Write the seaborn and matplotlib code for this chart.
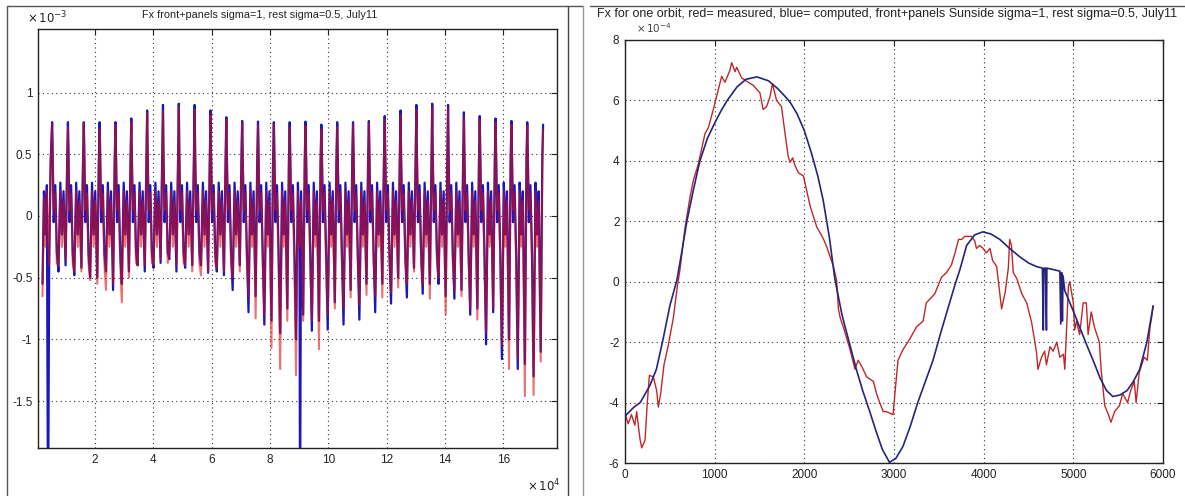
import numpy as np
import pandas as pd
import matplotlib
matplotlib.use("Agg")
import matplotlib.pyplot as plt
from matplotlib.lines import Line2D
import seaborn as sns

# ---------------- left panel: Fx over many orbits (units of 1e-3) ----------------
first_peak_x = 5300
orbit_period = 5430
peak_b = [0.76, 0.76, 0.76, 0.76, 0.76, 0.79, 0.855, 0.90, 0.91, 0.90, 0.855, 0.80, 0.77, 0.765, 0.76, 0.76,
          0.765, 0.74, 0.76, 0.76, 0.77, 0.81, 0.855, 0.90, 0.91, 0.90, 0.84, 0.81, 0.79, 0.77, 0.76, 0.74]
peak_r = [0.74, 0.72, 0.75, 0.70, 0.74, 0.76, 0.83, 0.85, 0.88, 0.86, 0.82, 0.78, 0.75, 0.73, 0.74, 0.72,
          0.73, 0.70, 0.72, 0.74, 0.75, 0.78, 0.82, 0.86, 0.88, 0.87, 0.80, 0.78, 0.76, 0.74, 0.73, 0.70]
t1_b = [-0.45, -0.48, -0.50, -0.45, -0.55, -0.40, -0.42, -0.35, -0.42, -0.40, -0.45, -0.60, -0.78,
        -0.88, -0.95, -1.00, -0.93, -0.92, -0.88, -0.84, -0.78, -0.71, -0.66, -0.63, -0.55, -0.67,
        -0.80, -1.04, -1.16, -1.24, -1.30]
t1_r = [-0.40, -0.45, -0.52, -0.60, -0.70, -0.40, -0.40, -0.30, -0.40, -0.48, -0.42, -0.50, -0.65,
        -0.80, -1.24, -1.29, -0.85, -0.80, -0.75, -0.72, -0.65, -0.62, -0.55, -0.55, -0.50, -0.60,
        -0.75, -0.95, -1.05, -1.15, -1.45]
t2_b = [-0.40, -0.42, -0.50, -0.60, -0.45, -0.45, -0.38, -0.45, -0.40, -0.46, -0.48, -0.40, -0.65,
        -0.85, -0.75, -0.80, -0.85, -0.70, -0.60, -0.55, -0.55, -0.50, -0.42, -0.55, -0.65, -0.60,
        -0.75, -0.78, -1.00, -1.20, -1.10]
t2_r = [-0.35, -0.45, -0.55, -0.55, -0.50, -0.40, -0.35, -0.40, -0.45, -0.45, -0.45, -0.45, -0.83,
        -1.07, -0.85, -0.85, -1.08, -0.75, -0.66, -0.64, -0.66, -0.58, -0.45, -0.67, -0.80, -0.65,
        -0.84, -0.75, -1.24, -1.46, -1.18]
# within-orbit shape read from one orbit (P = peak, T1/T2 = orbit troughs)
orbit_phase = [0.00, 0.03, 0.10, 0.20, 0.30, 0.40, 0.52, 0.62, 0.72, 0.85, 0.95]
shape_b = ["P", 0.55, -0.05, 0.25, -0.30, "T1", 0.27, -0.15, 0.20, "T2", 0.45]
shape_r = ["P", 0.50, 0.05, 0.18, -0.38, "T1", 0.20, -0.25, 0.12, "T2", 0.40]
start_x = [2000, 2500, 3000, 3500, 4300, 4800]
start_b = [-0.55, 0.20, -0.15, 0.25, -0.35, 0.45]
start_r = [-0.65, 0.15, -0.25, 0.20, -0.40, 0.40]
spike_x = [3900, 90300]
spike_b = [-2.6, -2.6]

# ---------------- right panel: one orbit (units of 1e-4) ----------------
meas_x = [0, 10, 35, 72, 110, 130, 167, 186, 223, 250, 272, 316, 353, 372, 398, 435, 483, 539, 584, 613,
          670, 725, 762, 818, 892, 930, 985, 1040, 1078, 1115, 1170, 1190, 1227, 1245, 1300, 1375, 1430,
          1505, 1540, 1580, 1615, 1645, 1690, 1745, 1785, 1820, 1840, 1870, 1895, 1935, 1990, 2065, 2140,
          2180, 2215, 2250, 2325, 2360, 2380, 2400, 2435, 2510, 2565, 2600, 2640, 2695, 2770, 2805, 2840,
          2880, 2915, 2990, 3010, 3045, 3100, 3175, 3250, 3325, 3360, 3455, 3530, 3585, 3640, 3680, 3720,
          3755, 3790, 3865, 3900, 3920, 3955, 3995, 4030, 4070, 4100, 4145, 4200, 4240, 4275, 4290, 4310,
          4330, 4370, 4425, 4480, 4535, 4590, 4605, 4645, 4680, 4700, 4740, 4775, 4815, 4850, 4890, 4905,
          4925, 4945, 4960, 5000, 5015, 5035, 5070, 5110, 5145, 5165, 5200, 5235, 5290, 5310, 5350, 5385,
          5420, 5460, 5515, 5550, 5605, 5640, 5680, 5700, 5735, 5790, 5825, 5855, 5875, 5890]
meas_y = [-4.35, -4.45, -4.7, -4.4, -4.75, -4.3, -5.2, -5.5, -5.25, -3.95, -3.1, -3.15, -3.6, -4.15, -3.7,
          -2.75, -2.1, -1.2, -0.15, 0.4, 1.8, 2.8, 3.35, 3.9, 4.9, 5.1, 5.7, 6.35, 6.8, 6.6, 7.0, 7.25, 6.95,
          7.1, 6.75, 6.6, 6.5, 6.25, 5.7, 5.8, 6.1, 6.55, 6.0, 5.8, 4.9, 4.15, 3.95, 4.1, 3.85, 3.6, 3.5,
          2.5, 1.8, 1.6, 1.4, 1.15, 0.5, 0.05, -0.9, -1.2, -1.5, -2.25, -2.9, -2.6, -2.8, -3.15, -3.3, -3.7,
          -4.0, -4.3, -4.3, -4.4, -3.7, -2.6, -2.25, -1.9, -1.5, -1.3, -0.7, -0.4, 0.15, 0.3, 0.55, 0.95,
          1.4, 1.4, 1.5, 1.5, 1.35, 1.1, 1.2, 1.1, 0.95, 1.1, 0.7, 0.5, -0.9, -0.35, 0.45, 1.4, 1.2, 0.3,
          0.1, -0.4, -0.7, -1.35, -2.35, -2.9, -2.5, -2.3, -2.75, -2.15, -2.3, -2.0, -2.5, -2.4, -2.9, -1.55,
          -0.15, 0.0, -0.7, -1.6, -1.3, -1.75, -0.7, -0.7, -1.75, -1.0, -1.5, -2.0, -2.9, -4.1, -4.35, -4.65,
          -4.3, -4.1, -3.7, -4.0, -3.6, -3.3, -4.0, -3.0, -2.5, -2.6, -1.5, -1.15, -0.8]
comp_x = [0, 100, 170, 275, 350, 425, 500, 580, 640, 690, 760, 835, 920, 1000, 1070, 1140, 1250, 1350,
          1470, 1600, 1700, 1780, 1840, 1920, 2000, 2080, 2150, 2210, 2280, 2340, 2420, 2500, 2580,
          2650, 2730, 2800, 2870, 2950, 3020, 3100, 3180, 3265, 3350, 3435, 3530, 3620, 3680, 3735,
          3810, 3900, 3990, 4080, 4180, 4290, 4400, 4500, 4590, 4655, 4665, 4672, 4690, 4700, 4705,
          4850, 4860, 4870, 4878, 4885, 4905, 4990, 5070, 5150, 5220, 5300, 5370, 5440, 5520, 5600,
          5670, 5740, 5820, 5890]
comp_y = [-4.45, -4.15, -4.0, -3.45, -2.9, -1.9, -0.8, 0.07, 1.1, 2.0, 3.0, 4.0, 4.75, 5.25, 5.65, 6.0,
          6.45, 6.7, 6.78, 6.65, 6.4, 6.15, 5.95, 5.55, 5.0, 4.25, 3.5, 2.7, 1.45, 0.1, -1.1, -2.0, -2.9,
          -3.6, -4.3, -4.95, -5.55, -5.98, -5.85, -5.45, -4.8, -4.0, -3.3, -2.6, -1.6, -0.7, -0.1, 0.4,
          1.2, 1.55, 1.65, 1.58, 1.4, 1.1, 0.83, 0.62, 0.5, 0.45, -1.6, 0.45, 0.45, -1.6, 0.45,
          0.35, -1.4, 0.3, -1.3, 0.2, -0.3, -0.9, -1.5, -2.1, -2.6, -3.2, -3.6, -3.8, -3.75, -3.6,
          -3.3, -2.9, -2.0, -0.8]


def build_series(peaks, t1, t2, shape, sx, sy):
    xs, ys = list(sx), list(sy)
    n = len(t1)
    for k in range(n):
        x0 = first_peak_x + k * orbit_period
        for ph, v in zip(orbit_phase, shape):
            if v == "P":
                v = peaks[k]
            elif v == "T1":
                v = t1[k]
            elif v == "T2":
                v = t2[k]
            xs.append(x0 + ph * orbit_period)
            ys.append(v)
    xs.append(first_peak_x + n * orbit_period)
    ys.append(peaks[n])
    return xs, ys


bx, by = build_series(peak_b, t1_b, t2_b, shape_b, start_x, start_b)
bx += spike_x
by += spike_b
blue_df = pd.DataFrame({"x": bx, "y": by}).sort_values("x")
rx, ry = build_series(peak_r, t1_r, t2_r, shape_r, start_x, start_r)
red_df = pd.DataFrame({"x": rx, "y": ry})

sns.set_theme(style="white")
plt.rcParams["font.family"] = ["Liberation Sans", "DejaVu Sans"]
plt.rcParams["axes.unicode_minus"] = False

W, H = 1185, 496
fig = plt.figure(figsize=(W / 100, H / 100), dpi=100)
fig.patch.set_facecolor("white")


def axes_px(l, t, r, b):
    return fig.add_axes([l / W, 1 - b / H, (r - l) / W, (b - t) / H])


def matlab_style(ax):
    for s in ax.spines.values():
        s.set_color("#222222")
        s.set_linewidth(1.0)
        s.set_visible(True)
    ax.tick_params(direction="in", length=4, width=0.8, top=True, right=True,
                   labelsize=8.5, colors="#222222", pad=4)
    ax.grid(True, color="#333333", linestyle=(0, (1, 3)), linewidth=0.8)
    ax.set_xlabel("")
    ax.set_ylabel("")


# left
axL = axes_px(38, 29, 557, 448)
sns.lineplot(data=blue_df, x="x", y="y", ax=axL, color="#1818bc", linewidth=1.6,
             estimator=None, sort=False)
sns.lineplot(data=red_df, x="x", y="y", ax=axL, color="#dd0c0c", linewidth=1.5, alpha=0.58,
             estimator=None, sort=False)
axL.set_xlim(460, 178400)
axL.set_ylim(-1.88, 1.515)
axL.set_xticks([20000, 40000, 60000, 80000, 100000, 120000, 140000, 160000])
axL.set_xticklabels(["2", "4", "6", "8", "10", "12", "14", "16"])
axL.set_yticks([-1.5, -1, -0.5, 0, 0.5, 1])
axL.set_yticklabels(["-1.5", "-1", "-0.5", "0", "0.5", "1"])
matlab_style(axL)

# right
axR = axes_px(625, 40, 1163, 463)
sns.lineplot(x=meas_x, y=meas_y, ax=axR, color="#c02828", linewidth=1.0,
             estimator=None, sort=False)
sns.lineplot(x=comp_x, y=comp_y, ax=axR, color="#25257f", linewidth=1.2,
             estimator=None, sort=False)
axR.set_xlim(0, 6000)
axR.set_ylim(-6, 8)
axR.set_xticks([0, 1000, 2000, 3000, 4000, 5000, 6000])
axR.set_yticks([-6, -4, -2, 0, 2, 4, 6, 8])
matlab_style(axR)


def ftext(px, py, s, **kw):
    fig.text(px / W, 1 - py / H, s, **kw)


ftext(260, 15, "Fx front+panels sigma=1, rest sigma=0.5, July11", ha="center", va="center",
      fontsize=7.8, color="#222222")
ftext(27, 18, r"$\times\,10^{-3}$", ha="left", va="center", fontsize=8.5, color="#222222")
ftext(527, 486, r"$\times\,10^{4}$", ha="left", va="center", fontsize=8.5, color="#222222")
ftext(887, 14, "Fx for one orbit, red= measured, blue= computed, front+panels Sunside sigma=1, "
      "rest sigma=0.5, July11", ha="center", va="center", fontsize=9.0, color="#222222")
ftext(636, 28, r"$\times\,10^{-4}$", ha="left", va="center", fontsize=7.5, color="#444444")

# panel frames
for (x1, y1, x2, y2, c) in [(7, 6, 583, 6, "#555555"), (7, 6, 7, 496, "#555555"),
                            (568, 6, 568, 496, "#444444"), (583, 6, 583, 496, "#999999"),
                            (590, 6, 1185, 6, "#555555")]:
    fig.add_artist(Line2D([x1 / W, x2 / W], [1 - y1 / H, 1 - y2 / H], transform=fig.transFigure,
                          color=c, linewidth=1.0))

fig.savefig("out.png", dpi=100, facecolor="white")
